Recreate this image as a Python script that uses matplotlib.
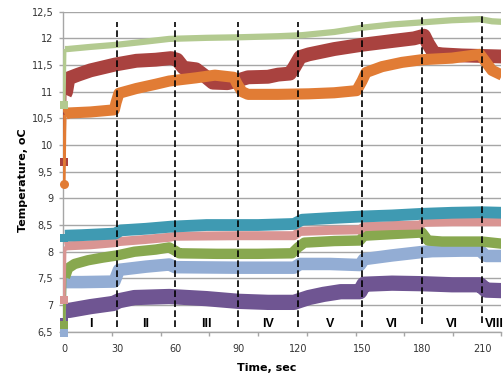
import numpy as np
import matplotlib
matplotlib.use("Agg")
import matplotlib.pyplot as plt
from matplotlib.ticker import FixedLocator, FuncFormatter

# ---------------- data ----------------
lgreen_t = [0, 0.5, 2, 15, 30, 45, 57, 75, 90, 110, 122, 137, 150, 165, 180, 195, 209, 215, 220]
lgreen_v = [10.75, 11.80, 11.80, 11.84, 11.88, 11.94, 11.99, 12.01, 12.02, 12.04, 12.06, 12.12, 12.20, 12.26, 12.30, 12.34, 12.36, 12.32, 12.31]

red_t = [0, 0.5, 1.2, 2.5, 8, 15, 29, 40, 50, 58, 61, 64, 70, 74, 78, 85, 89, 95, 105, 110, 116, 118, 121, 125, 137, 150, 165, 176, 181, 183, 186, 190, 200, 220]
red_v = [9.68, 10.95, 11.0, 11.25, 11.32, 11.40, 11.51, 11.58, 11.60, 11.63, 11.60, 11.45, 11.42, 11.30, 11.17, 11.16, 11.20, 11.27, 11.28, 11.32, 11.34, 11.45, 11.65, 11.70, 11.80, 11.88, 11.95, 12.00, 12.05, 11.90, 11.72, 11.70, 11.68, 11.66]

orange_t = [0, 0.5, 2, 15, 28.5, 29.5, 31, 40, 50, 57, 70, 79, 88, 89.5, 92, 95, 110, 125, 137, 147.5, 150, 152, 160, 170, 180, 195, 209, 212, 215, 220]
orange_v = [9.27, 10.57, 10.60, 10.62, 10.66, 10.80, 10.97, 11.06, 11.14, 11.20, 11.26, 11.31, 11.27, 11.15, 11.00, 10.95, 10.95, 10.96, 10.98, 11.02, 11.20, 11.36, 11.47, 11.55, 11.60, 11.63, 11.70, 11.55, 11.40, 11.31]

teal_t = [0, 0.5, 10, 29, 32, 45, 58, 75, 100, 118, 122, 135, 150, 165, 180, 195, 210, 220]
teal_v = [8.25, 8.30, 8.31, 8.34, 8.40, 8.43, 8.47, 8.50, 8.50, 8.52, 8.60, 8.63, 8.66, 8.68, 8.71, 8.73, 8.74, 8.73]

pink_t = [0, 0.5, 2, 15, 29, 31, 45, 57, 60, 90, 118, 121, 135, 149, 151, 165, 179, 181, 195, 210, 220]
pink_v = [7.10, 8.10, 8.11, 8.13, 8.17, 8.19, 8.23, 8.27, 8.29, 8.30, 8.30, 8.38, 8.40, 8.41, 8.47, 8.49, 8.50, 8.55, 8.56, 8.56, 8.56]

green_t = [0, 0.5, 2.3, 6, 13.6, 22, 30, 39, 50, 57, 60, 62, 80, 100, 117, 120, 123, 137, 149, 151, 165, 180, 183, 190, 210, 220]
green_v = [6.62, 7.52, 7.69, 7.77, 7.84, 7.89, 7.93, 8.00, 8.04, 8.08, 8.02, 7.97, 7.96, 7.96, 7.97, 8.08, 8.17, 8.20, 8.21, 8.30, 8.33, 8.36, 8.21, 8.19, 8.19, 8.15]

lblue_t = [0, 0.5, 10, 28.5, 31, 45, 57, 60, 90, 118, 121, 135, 149, 151, 165, 179, 185, 200, 209, 212, 220]
lblue_v = [6.48, 7.43, 7.43, 7.44, 7.66, 7.72, 7.76, 7.71, 7.70, 7.70, 7.77, 7.77, 7.75, 7.86, 7.93, 7.99, 8.01, 8.02, 8.02, 7.92, 7.92]

purple_t = [0, 0.5, 3, 15, 28, 31, 39, 57, 75, 90, 105, 118, 125, 132, 140, 149, 151, 165, 180, 195, 209, 212, 220]
purple_v = [6.68, 6.90, 6.90, 6.97, 7.03, 7.08, 7.14, 7.16, 7.12, 7.07, 7.05, 7.05, 7.14, 7.20, 7.25, 7.25, 7.39, 7.41, 7.40, 7.38, 7.38, 7.28, 7.27]

# phase boundaries (dashed lines) and phase labels
boundary_t = [30, 60, 90, 120, 150, 180, 210]
boundary_top = [12.31, 12.31, 12.31, 12.31, 12.31, 12.44, 12.44]
boundary_bottom = [6.58, 6.58, 6.58, 6.58, 6.58, 6.65, 6.67]
phase_labels = ["I", "II", "III", "IV", "V", "VI", "VI", "VIII"]
phase_label_t = [15, 45, 75, 105, 135, 165, 195, 216]

x_tick_values = [0, 30, 60, 90, 120, 150, 180, 210]
x_minor_ticks = [27.0, 52.6, 76.3, 100.2, 124.1, 147.0, 171.2, 195.3, 219.5]
y_ticks = [6.5, 7, 7.5, 8, 8.5, 9, 9.5, 10, 10.5, 11, 11.5, 12, 12.5]

# category-axis calibration (time value -> relative position on the axis)
axis_knots_t = [-30, 0, 30, 60, 90, 120, 150, 180, 210, 240]
axis_knots_p = [11, 64, 117, 175, 238, 298, 362, 422, 482, 542]

# ---------------- figure ----------------
fig = plt.figure(figsize=(5.04, 3.8), dpi=100)
ax = fig.add_axes([63 / 504, 1 - 331.7 / 380, (501 - 63) / 504, (331.7 - 11.7) / 380])

def fwd(t):
    return np.interp(t, axis_knots_t, axis_knots_p)

def inv(p):
    return np.interp(p, axis_knots_p, axis_knots_t)

ax.set_xscale("function", functions=(fwd, inv))
ax.set_xlim(-0.57, 219.5)
ax.set_ylim(6.5, 12.5)

series = [
    (purple_t, purple_v, "#6f5592", 11.0, "s"),
    (lblue_t, lblue_v, "#93add4", 9.0, "s"),
    (green_t, green_v, "#88a84f", 7.5, "s"),
    (pink_t, pink_v, "#d99593", 6.5, "s"),
    (teal_t, teal_v, "#3f9ab2", 8.5, "s"),
    (red_t, red_v, "#a9423f", 10.0, "s"),
    (orange_t, orange_v, "#e17c35", 8.0, "o"),
    (lgreen_t, lgreen_v, "#b3ca90", 4.5, "s"),
]
for t, v, c, lw, mk in series:
    # initial jump drawn with the true (thin) line width
    ax.plot(t[:2], v[:2], color=c, lw=2.3, solid_capstyle="butt", zorder=3)
    ax.plot(t[:1], v[:1], color=c, marker=mk, ms=6 if mk == "s" else 6.5,
            mew=0, ls="none", zorder=3, clip_on=False)
    # noisy measured trace drawn as a thick band
    ax.plot(t[1:], v[1:], color=c, lw=lw, solid_joinstyle="round",
            solid_capstyle="butt", zorder=3)

for bt, top, bot in zip(boundary_t, boundary_top, boundary_bottom):
    ax.plot([bt, bt], [bot, top], color="black", lw=1.2, ls=(0, (4, 2)), zorder=5)

for lab, lt in zip(phase_labels, phase_label_t):
    ax.text(lt, 6.64, lab, ha="center", va="center", fontsize=9,
            family="Liberation Sans", fontweight="bold", color="black",
            zorder=6, clip_on=False)

# grid & spines
ax.set_yticks(y_ticks)
ax.yaxis.set_major_formatter(FuncFormatter(lambda v, p: f"{v:g}".replace(".", ",")))
ax.grid(axis="y", color="#a6a6a6", lw=1.0, zorder=0)
ax.set_axisbelow(True)
for s in ["top", "right"]:
    ax.spines[s].set_visible(False)
for s in ["left", "bottom"]:
    ax.spines[s].set_color("#a6a6a6")
    ax.spines[s].set_linewidth(1.0)

ax.set_xticks(x_tick_values)
ax.set_xticklabels([str(x) for x in x_tick_values])
ax.xaxis.set_minor_locator(FixedLocator(x_minor_ticks))
ax.tick_params(axis="x", which="major", length=0, pad=8.5, labelsize=7, labelcolor="#333333")
ax.tick_params(axis="x", which="minor", length=3, color="#a6a6a6", width=1.0)
ax.tick_params(axis="y", which="major", length=3, color="#a6a6a6", width=1.0,
               pad=4, labelsize=7, labelcolor="#333333")

ax.set_xlabel("Time, sec", fontsize=8, fontweight="bold")
ax.xaxis.set_label_coords(0.466, -0.098)
ax.set_ylabel("Temperature, oC", fontsize=8, fontweight="bold")
ax.yaxis.set_label_coords(-0.08, 0.474)

fig.savefig("out.png", dpi=100)
